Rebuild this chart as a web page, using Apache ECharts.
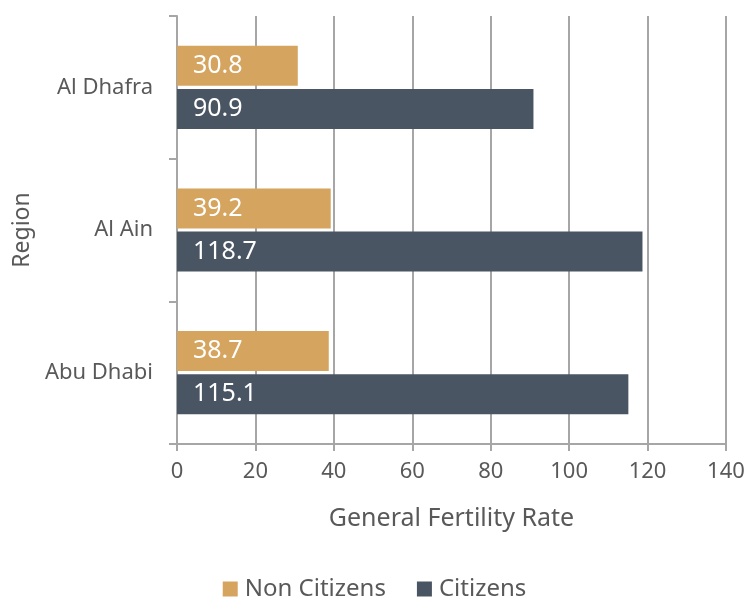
<!DOCTYPE html>
<html>
<head>
<meta charset="utf-8">
<script src="https://cdn.jsdelivr.net/npm/echarts@6/dist/echarts.min.js"></script>
<style>
  html, body { margin: 0; padding: 0; background: #fff; }
  #chart { width: 749px; height: 599px; }
</style>
</head>
<body>
<div id="chart"></div>
<script>
// categories bottom -> top
const regions = ['Abu Dhabi', 'Al Ain', 'Al Dhafra']
const citizens = [115.1, 118.7, 90.9]
const nonCitizens = [38.7, 39.2, 30.8]
const xTicks = [0, 20, 40, 60, 80, 100, 120, 140]

const font = 'Noto Sans'
const gridColor = '#a6a6a6'
const textColor = '#595959'

const myChart = echarts.init(document.getElementById('chart'))

const barLabel = {
  show: true,
  position: 'insideLeft',
  distance: 16,
  color: '#fff',
  fontFamily: font,
  fontSize: 25,
  padding: [4, 0, 0, 0],
  formatter: (p) => p.value.toFixed(1)
}

const option = {
  animation: false,
  textStyle: {fontFamily: font},
  grid: {left: 177, right: 23, top: 16, bottom: 155, containLabel: false},
  legend: {
    data: ['Non Citizens', 'Citizens'],
    top: 572,
    left: 'center',
    itemWidth: 15,
    itemHeight: 15,
    itemGap: 31,
    icon: 'rect',
    textStyle: {color: textColor, fontSize: 24, fontFamily: font, padding: [0, 0, 0, 2]}
  },
  xAxis: {
    type: 'value',
    min: xTicks[0],
    max: xTicks[xTicks.length - 1],
    interval: 20,
    name: 'General Fertility Rate',
    nameLocation: 'middle',
    nameGap: 62,
    nameTextStyle: {color: textColor, fontSize: 25, fontFamily: font},
    axisLine: {show: true, lineStyle: {color: gridColor, width: 2}},
    axisTick: {show: true, length: 7, lineStyle: {color: gridColor, width: 2}},
    splitLine: {show: true, lineStyle: {color: gridColor, width: 2}},
    axisLabel: {color: textColor, fontSize: 22, fontFamily: font, margin: 17}
  },
  yAxis: {
    type: 'category',
    data: regions,
    name: 'Region',
    nameLocation: 'middle',
    nameGap: 143,
    nameRotate: 90,
    nameTextStyle: {color: textColor, fontSize: 23, fontFamily: font},
    axisLine: {show: true, lineStyle: {color: gridColor, width: 2}},
    axisTick: {show: true, length: 8, lineStyle: {color: gridColor, width: 2}},
    axisLabel: {color: textColor, fontSize: 22, fontFamily: font, margin: 24, padding: [4, 0, 0, 0]}
  },
  series: [
    {
      name: 'Non Citizens',
      type: 'bar',
      data: nonCitizens,
      barWidth: 40,
      barGap: '8%',
      itemStyle: {color: '#d5a45e'},
      label: barLabel
    },
    {
      name: 'Citizens',
      type: 'bar',
      data: citizens,
      barWidth: 40,
      barGap: '8%',
      itemStyle: {color: '#4a5563'},
      label: barLabel
    }
  ]
}

myChart.setOption(option)
</script>
</body>
</html>
